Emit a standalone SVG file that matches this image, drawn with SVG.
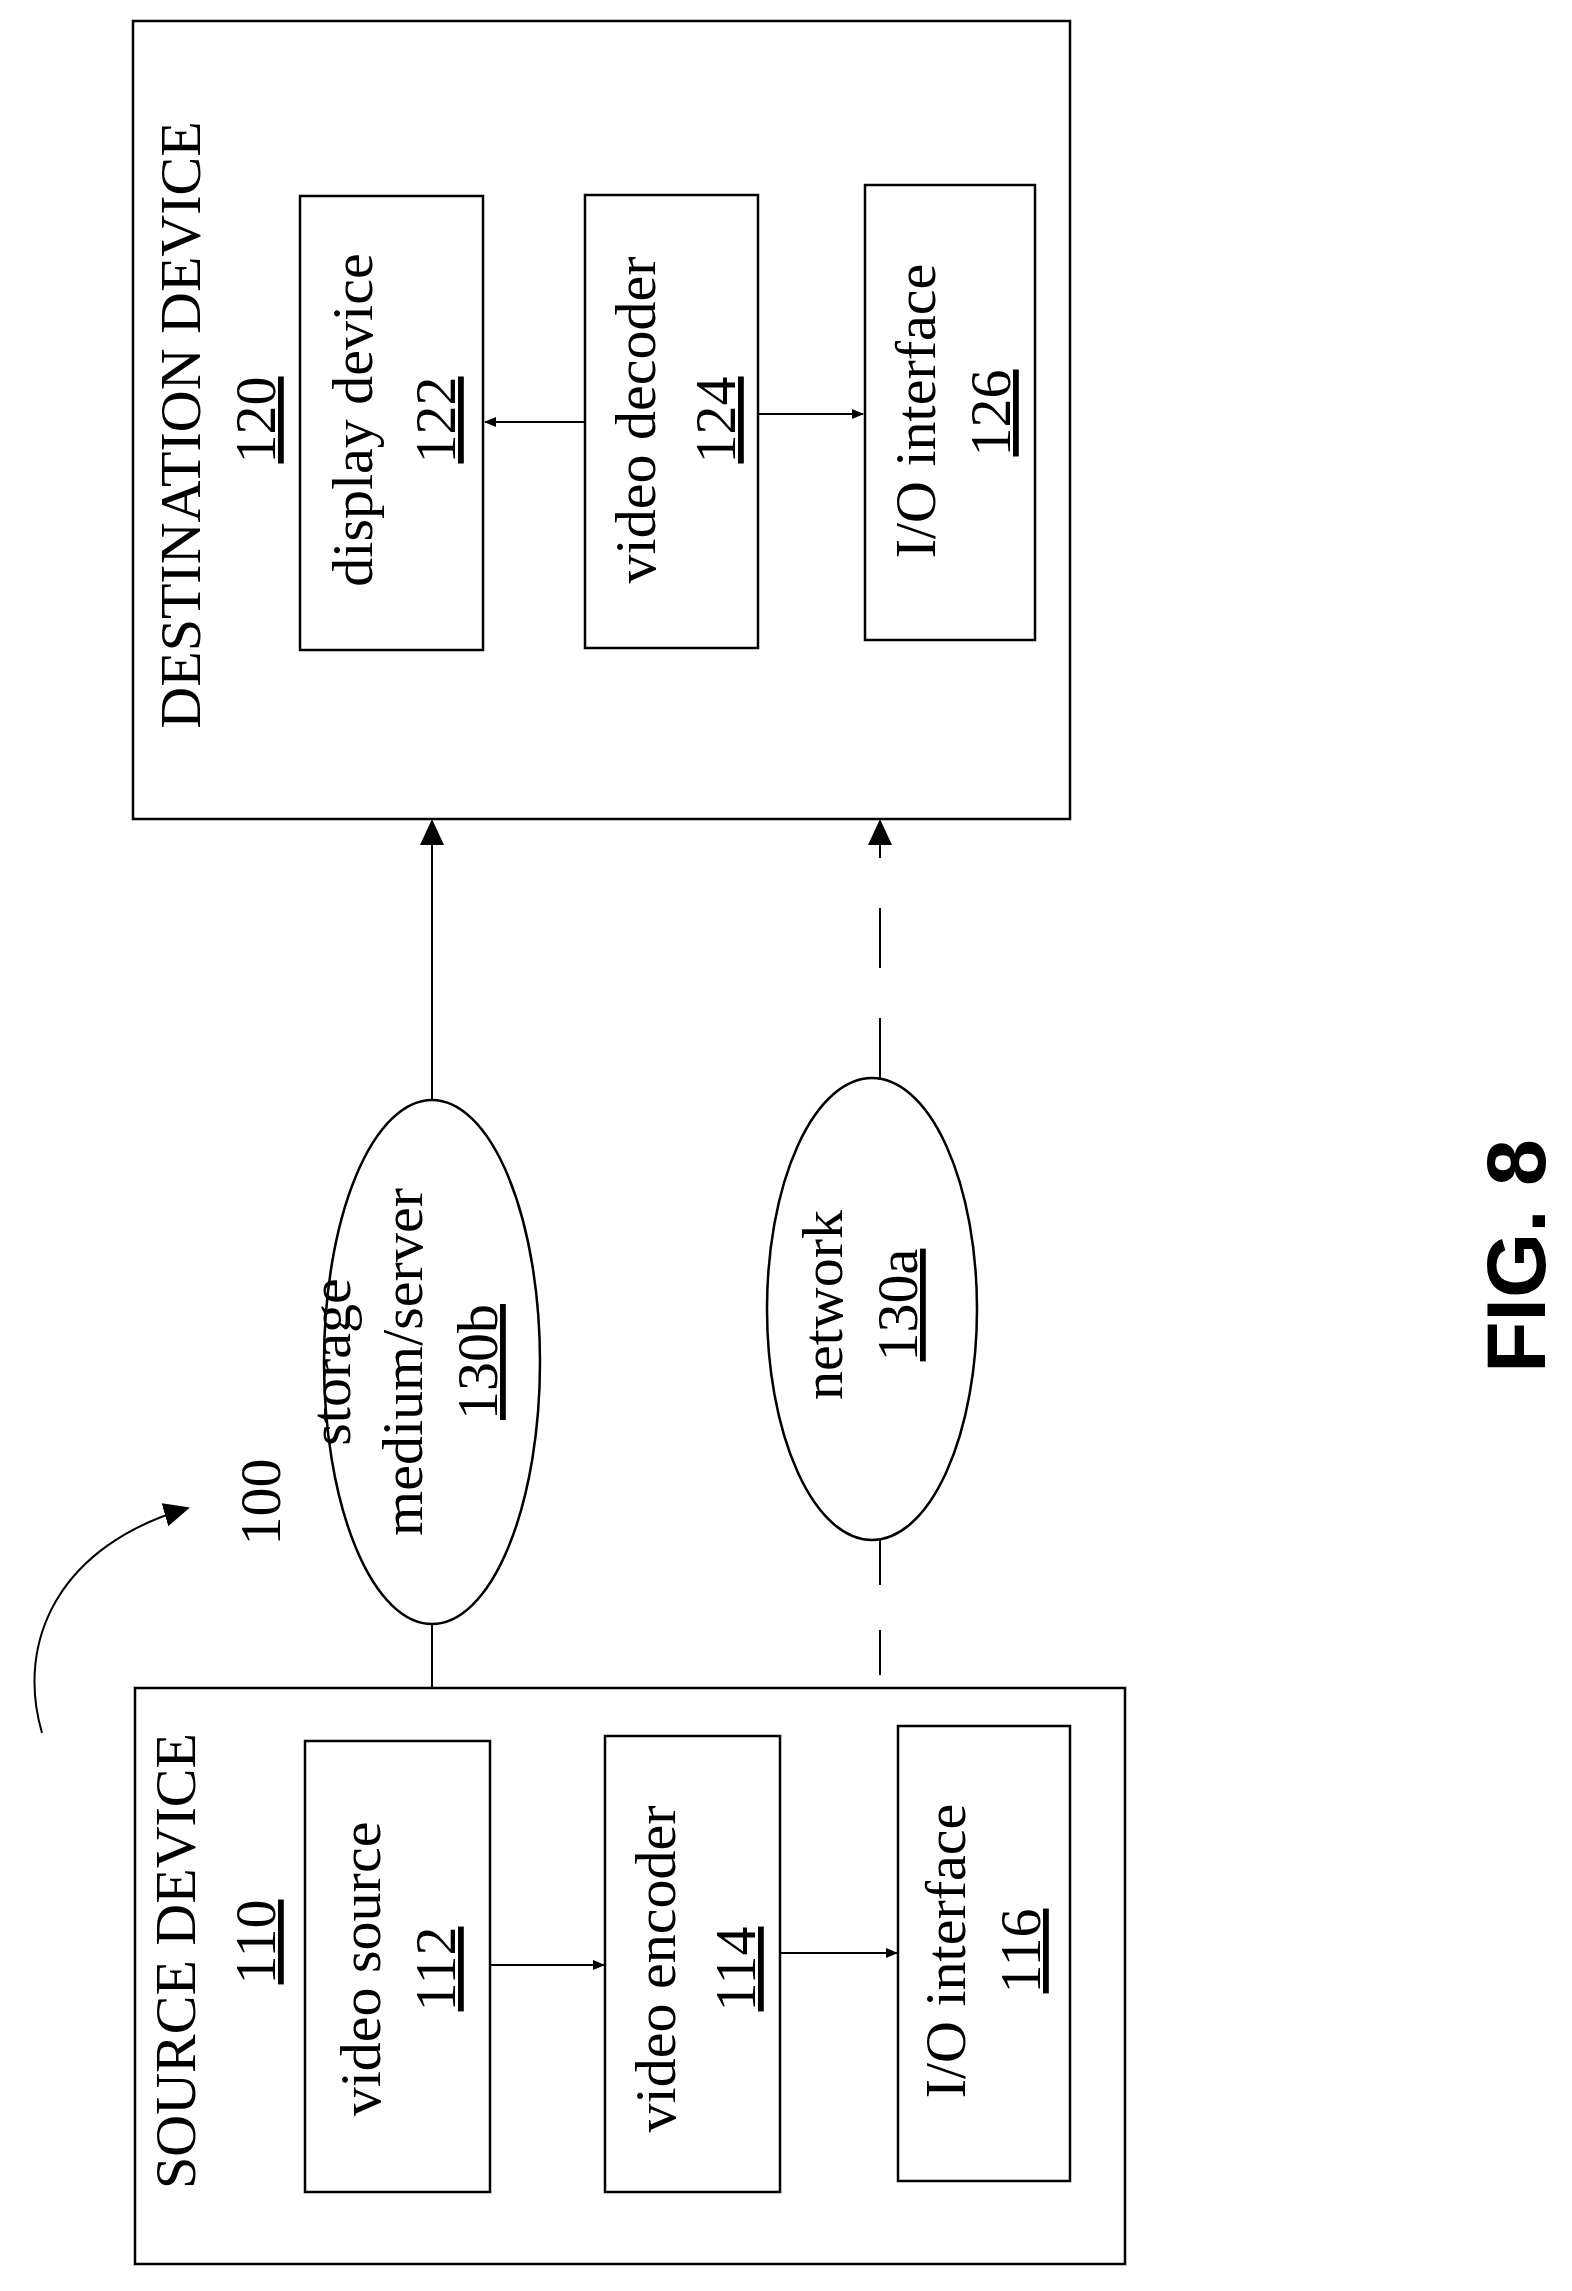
<svg xmlns="http://www.w3.org/2000/svg" width="1572" height="2291" viewBox="0 0 1572 2291">
<style>
.box{fill:none;stroke:#000;stroke-width:2.5}
.ln{fill:none;stroke:#000;stroke-width:2}
.t{font-family:"Liberation Serif",serif;font-size:58px;text-anchor:middle;fill:#000}
.u{text-decoration:underline}
</style>
<defs>
<marker id="ah" markerWidth="12" markerHeight="10" refX="11" refY="5" orient="auto" markerUnits="userSpaceOnUse" viewBox="0 0 12 10"><path d="M0,0 L12,5 L0,10 Z" fill="#000"/></marker>
<marker id="ahb" markerWidth="26" markerHeight="24" refX="24" refY="12" orient="auto" markerUnits="userSpaceOnUse" viewBox="0 0 26 24"><path d="M0,0 L26,12 L0,24 Z" fill="#000"/></marker>
</defs>
<rect width="1572" height="2291" fill="#fff"/>
<g id="destination">
<rect class="box" x="133" y="21" width="937" height="798"/>
<text class="t" transform="translate(200,425) rotate(-90)">DESTINATION DEVICE</text>
<text class="t u" transform="translate(275,420) rotate(-90)">120</text>
</g>
<g id="display122">
<rect class="box" x="300" y="196" width="183" height="454"/>
<text class="t" transform="translate(372,420) rotate(-90)">display device</text>
<text class="t u" transform="translate(455,420) rotate(-90)">122</text>
</g>
<g id="decoder124">
<rect class="box" x="585" y="195" width="173" height="453"/>
<text class="t" transform="translate(655,420) rotate(-90)">video decoder</text>
<text class="t u" transform="translate(735,420) rotate(-90)">124</text>
</g>
<g id="io126">
<rect class="box" x="865" y="185" width="170" height="455"/>
<text class="t" transform="translate(935,411) rotate(-90)">I/O interface</text>
<text class="t u" transform="translate(1010,413) rotate(-90)">126</text>
</g>
<g id="source">
<rect class="box" x="135" y="1688" width="990" height="576"/>
<text class="t" transform="translate(195,1961) rotate(-90)">SOURCE DEVICE</text>
<text class="t u" transform="translate(275,1942) rotate(-90)">110</text>
</g>
<g id="videosource112">
<rect class="box" x="305" y="1741" width="185" height="451"/>
<text class="t" transform="translate(380,1969) rotate(-90)">video source</text>
<text class="t u" transform="translate(455,1969) rotate(-90)">112</text>
</g>
<g id="encoder114">
<rect class="box" x="605" y="1736" width="175" height="456"/>
<text class="t" transform="translate(675,1969) rotate(-90)">video encoder</text>
<text class="t u" transform="translate(755,1969) rotate(-90)">114</text>
</g>
<g id="io116">
<rect class="box" x="898" y="1726" width="172" height="455"/>
<text class="t" transform="translate(965,1951) rotate(-90)">I/O interface</text>
<text class="t u" transform="translate(1040,1951) rotate(-90)">116</text>
</g>
<g id="storage130b">
<ellipse class="box" cx="432" cy="1362" rx="108" ry="262"/>
<text class="t" transform="translate(350,1362) rotate(-90)">storage</text>
<text class="t" transform="translate(422,1362) rotate(-90)">medium/server</text>
<text class="t u" transform="translate(497,1362) rotate(-90)">130b</text>
</g>
<g id="network130a">
<ellipse class="box" cx="872" cy="1309" rx="105" ry="231"/>
<text class="t" transform="translate(842,1305) rotate(-90)">network</text>
<text class="t u" transform="translate(917,1305) rotate(-90)">130a</text>
</g>
<g id="label100">
<text class="t" transform="translate(280,1502) rotate(-90)">100</text>
</g>
<g id="connectors">
<line class="ln" x1="585" y1="422" x2="485" y2="422" marker-end="url(#ah)"/>
<line class="ln" x1="758" y1="414" x2="863" y2="414" marker-end="url(#ah)"/>
<line class="ln" x1="490" y1="1965" x2="604" y2="1965" marker-end="url(#ah)"/>
<line class="ln" x1="780" y1="1953" x2="897" y2="1953" marker-end="url(#ah)"/>
<line class="ln" x1="432" y1="1100" x2="432" y2="821" marker-end="url(#ahb)"/>
<line class="ln" x1="432" y1="1624" x2="432" y2="1688"/>
<line class="ln" x1="880" y1="1078" x2="880" y2="821" stroke-dasharray="60,50" marker-end="url(#ahb)"/>
<line class="ln" x1="880" y1="1540" x2="880" y2="1688" stroke-dasharray="45,45"/>
<path class="ln" d="M42,1733 C15,1640 60,1545 188,1508" marker-end="url(#ahb)"/>
</g>
<text transform="translate(1545,1256) rotate(-90)" font-family="Liberation Sans,Arial,sans-serif" font-weight="bold" font-size="84" text-anchor="middle">FIG. 8</text>
</svg>
